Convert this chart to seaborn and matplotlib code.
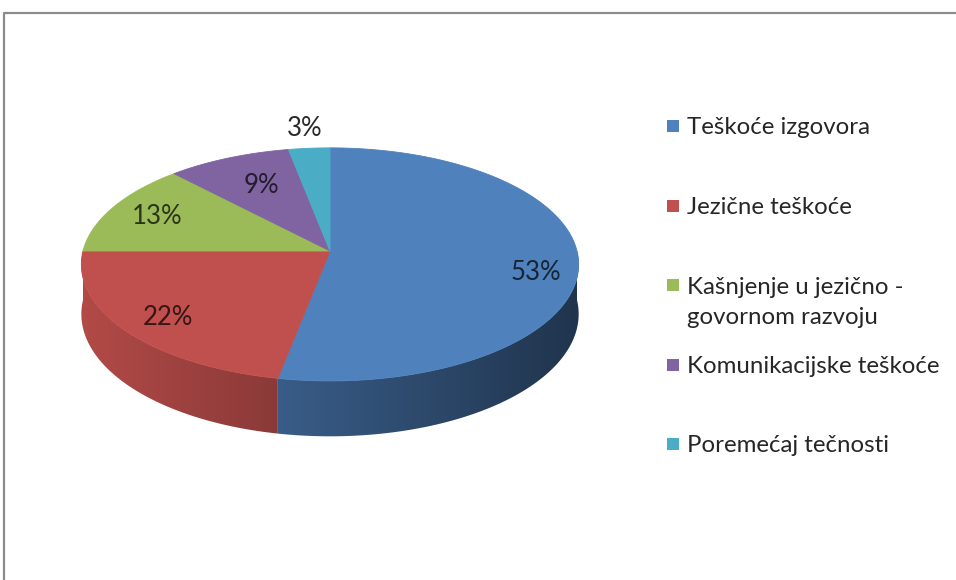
import numpy as np
import matplotlib
matplotlib.use("Agg")
import matplotlib.pyplot as plt
from matplotlib.patches import Polygon, Rectangle
from matplotlib.lines import Line2D
import seaborn as sns

# ---- data -------------------------------------------------------------
categories = [
    "Teškoće izgovora",
    "Jezične teškoće",
    "Kašnjenje u jezično -\ngovornom razvoju",
    "Komunikacijske teškoće",
    "Poremećaj tečnosti",
]
shares = [53, 22, 13, 9, 3]
value_labels = ["53%", "22%", "13%", "9%", "3%"]
slice_colors = ["#4F81BD", "#C0504D", "#9BBB59", "#8064A2", "#4BACC6"]

# ---- style ------------------------------------------------------------
sns.set_theme(style="white")
plt.rcParams["font.family"] = ["Lato", "DejaVu Sans"]
palette = sns.color_palette(slice_colors)

W, H = 956, 580
fig = plt.figure(figsize=(W / 100, H / 100), dpi=100)
fig.patch.set_facecolor("white")
ax = fig.add_axes([0, 0, 1, 1])
ax.set_xlim(0, W)
ax.set_ylim(H, 0)
ax.axis("off")

# chart frame (open towards right/bottom edge of the canvas)
ax.add_line(Line2D([4, 4, W + 5], [H + 5, 13, 13], color="#8c8c8c", lw=1.6))

# ---- 3D pie geometry ----------------------------------------------------
CX, CY = 330, 251        # centre of the top face
RX, RY = 247, 115        # radii of the top face
PERSP = 0.115            # perspective strength (front larger than back)
DEPTH = 49               # thickness of the pie


def project(r, t):
    u = r * np.cos(t)
    v = r * np.sin(t)
    w = 1 + PERSP * v
    return CX + RX * u / w, CY - RY * v / w, w


fracs = np.array(shares, dtype=float) / np.sum(shares)
# slices run clockwise starting at 12 o'clock
bounds = np.pi / 2 - 2 * np.pi * np.concatenate([[0], np.cumsum(fracs)])

# side wall: only the front half (angles -pi..0) is visible
x_left, x_right = CX - RX - 4, CX + RX + 6
y_top, y_bot = CY - 10, CY + 200
cols = np.linspace(x_left, x_right, 600)
shade = 0.93 - 0.53 * (cols - x_left) / (x_right - x_left)

for k in range(len(shares)):
    hi = min(bounds[k], 0.0)
    lo = max(bounds[k + 1], -np.pi)
    if hi <= lo:
        continue
    arc = np.linspace(lo, hi, 300)
    xs, ys, ws = project(1, arc)
    top = list(zip(xs, ys))
    bottom = list(zip(xs[::-1], (ys + DEPTH / ws)[::-1]))
    wall = Polygon(top + bottom, closed=True, facecolor="none", edgecolor="none")
    ax.add_patch(wall)
    rgb = np.clip(np.array(palette[k])[None, None, :] * shade[None, :, None], 0, 1)
    img = ax.imshow(np.repeat(rgb, 2, axis=0), extent=(x_left, x_right, y_bot, y_top),
                    aspect="auto", interpolation="bilinear", zorder=1)
    img.set_clip_path(wall)

ax.set_xlim(0, W)
ax.set_ylim(H, 0)

# top face
for k in range(len(shares)):
    arc = np.linspace(bounds[k], bounds[k + 1], 200)
    xs, ys, _ = project(1, arc)
    pts = [(CX, CY)] + list(zip(xs, ys))
    ax.add_patch(Polygon(pts, closed=True, facecolor=palette[k],
                         edgecolor=palette[k], lw=0.6, zorder=2))

# value labels
label_radius = [0.83, 0.8, 0.79, 0.65, 1.25]
label_nudge = [12, 4, 0, -3, 3]
for k, txt in enumerate(value_labels):
    mid = 0.5 * (bounds[k] + bounds[k + 1])
    r = label_radius[k]
    lx, ly, _ = project(r, mid)
    if r <= 1:
        tc = tuple(np.array(palette[k]) * 0.28)
    else:
        tc = "#2a2a2a"
    ax.text(lx, ly + label_nudge[k], txt, ha="center", va="center",
            fontsize=18.5, color=tc, zorder=3)

# ---- legend -------------------------------------------------------------
leg_x, leg_y0, leg_step, line_gap = 667, 126, 79.5, 30
for k, name in enumerate(categories):
    y = leg_y0 + k * leg_step
    ax.add_patch(Rectangle((leg_x, y - 6), 12, 12, facecolor=palette[k],
                           edgecolor="none"))
    for j, line in enumerate(name.split("\n")):
        ax.text(leg_x + 20, y + j * line_gap, line, ha="left",
                va="center_baseline", fontsize=17.3, color="#262626")

fig.savefig("out.png", dpi=100, facecolor="white")
